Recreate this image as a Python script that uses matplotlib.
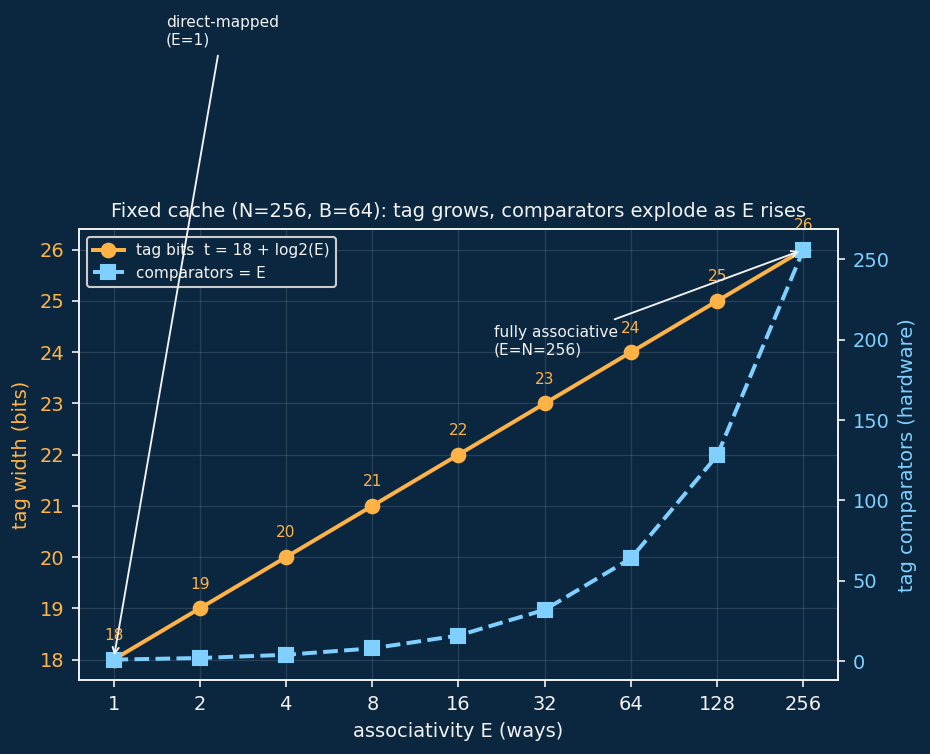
import numpy as np
import matplotlib
matplotlib.use("Agg")
import matplotlib.pyplot as plt

# data
ways = [1, 2, 4, 8, 16, 32, 64, 128, 256]
tag_bits = [18, 19, 20, 21, 22, 23, 24, 25, 26]
comparators = [1, 2, 4, 8, 16, 32, 64, 128, 256]
tick_labels = ["1", "2", "4", "8", "16", "32", "64", "128", "256"]

BG = "#0b2740"
ORANGE = "#ffb347"
BLUE = "#7fd0ff"
FG = "#f2f2f2"
FS = 9.3
SMALL = 7.4

fig = plt.figure(figsize=(6.2, 754 / 150), dpi=150, facecolor=BG)
ax = fig.add_axes([0.085, 0.098, 0.816, 0.598])
ax.set_facecolor(BG)
ax2 = ax.twinx()

ax.set_xscale("log", base=2)
l1, = ax.plot(ways, tag_bits, color=ORANGE, marker="o", markersize=6.5,
              linewidth=1.9, label="tag bits  t = 18 + log2(E)")
l2, = ax2.plot(ways, comparators, color=BLUE, marker="s", markersize=6.5,
               linewidth=1.9, linestyle="--", label="comparators = E")

for x, t in zip(ways, tag_bits):
    ax.annotate(str(t), (x, t), xytext=(0, 8), textcoords="offset points",
                ha="center", va="bottom", color=ORANGE, fontsize=SMALL)

ax.set_xticks(ways)
ax.set_xticklabels(tick_labels)
ax.xaxis.set_minor_locator(matplotlib.ticker.NullLocator())
ax.set_yticks(range(18, 27))
ax2.set_yticks([0, 50, 100, 150, 200, 250])

ax.grid(True, color="white", alpha=0.12, linewidth=0.6)

ax.set_xlabel("associativity E (ways)", color=FG, fontsize=FS)
ax.set_ylabel("tag width (bits)", color=ORANGE, fontsize=FS)
ax2.set_ylabel("tag comparators (hardware)", color=BLUE, fontsize=FS)
ax.set_title("Fixed cache (N=256, B=64): tag grows, comparators explode as E rises",
             color=FG, fontsize=FS)

ax.tick_params(axis="x", colors=FG, labelsize=FS)
ax.tick_params(axis="y", colors=FG, labelcolor=ORANGE, labelsize=FS)
ax2.tick_params(axis="y", colors=FG, labelcolor=BLUE, labelsize=FS)
for a in (ax, ax2):
    for s in a.spines.values():
        s.set_color(FG)

leg = ax2.legend(handles=[l1, l2], loc="upper left", fontsize=SMALL,
                 facecolor=BG, edgecolor="#cccccc", framealpha=1)
for txt in leg.get_texts():
    txt.set_color(FG)

ax2.annotate("direct-mapped\n(E=1)", xy=(1, 18), xycoords=ax.transData,
             xytext=(1.52, 29.95), textcoords=ax.transData,
             ha="left", va="bottom", color=FG, fontsize=SMALL,
             arrowprops=dict(arrowstyle="->", color=FG, lw=0.9),
             annotation_clip=False, zorder=10)
ax2.annotate("fully associative\n(E=N=256)", xy=(256, 26), xycoords=ax.transData,
             xytext=(21.2, 23.9), textcoords=ax.transData,
             ha="left", va="bottom", color=FG, fontsize=SMALL,
             arrowprops=dict(arrowstyle="->", color=FG, lw=0.9),
             annotation_clip=False, zorder=10)

fig.savefig("out.png", dpi=150, facecolor=BG)
